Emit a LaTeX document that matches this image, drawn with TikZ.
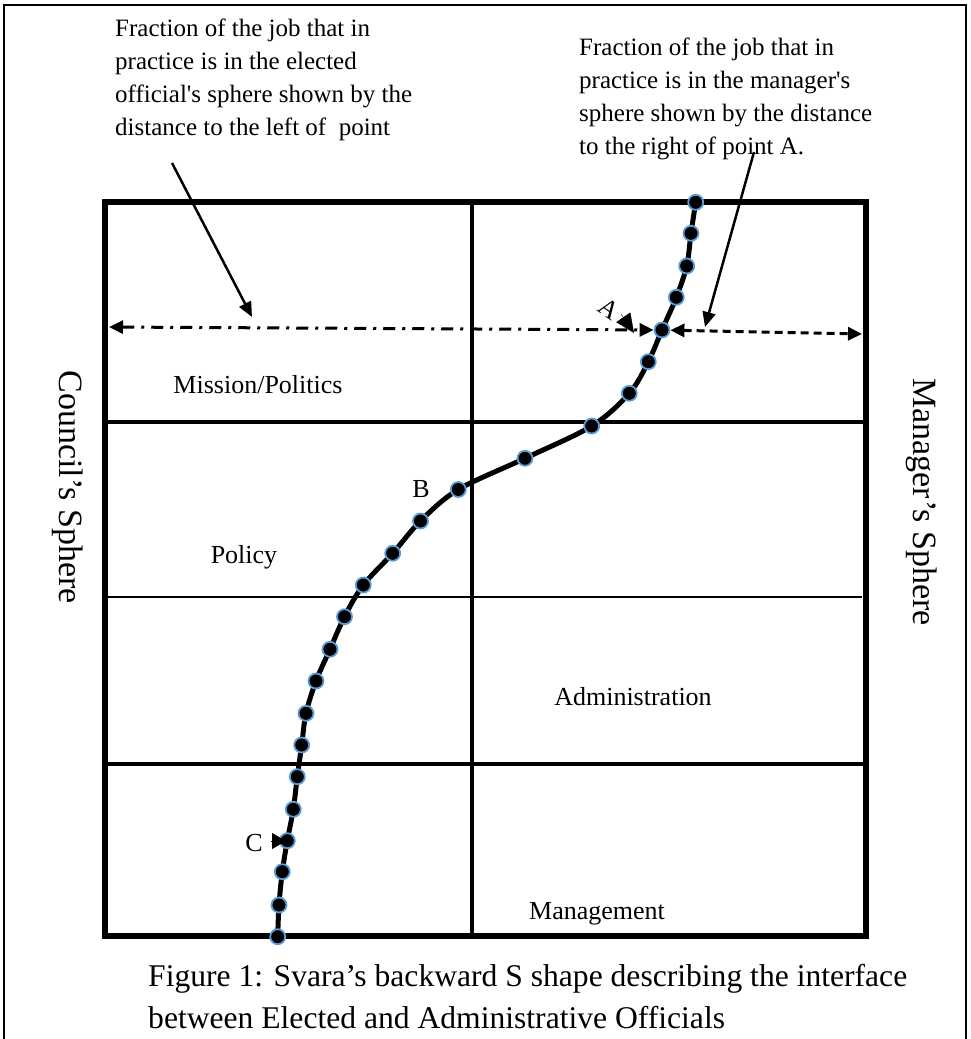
\documentclass[tikz,border=0pt]{standalone}
\usepackage{fontspec}
\setmainfont{Liberation Serif}
\usetikzlibrary{arrows.meta}
\definecolor{dotblue}{HTML}{5B9BD5}

\begin{document}
\begin{tikzpicture}[x=1pt,y=-1pt,
  frame/.style={line width=2pt},
  gridthick/.style={line width=5.5pt},
  gridmid/.style={line width=4.2pt},
  gridthin/.style={line width=2.5pt},
  curve/.style={line width=5pt},
  dot/.style={circle, fill=black, draw=dotblue, line width=1.8pt, minimum size=15pt, inner sep=0pt},
  dashdot/.style={line width=3pt, dash pattern=on 12pt off 7pt on 3pt off 7pt,
    {Triangle[length=14pt,width=13pt]}-{Triangle[length=14pt,width=13pt]}},
  dashline/.style={line width=3pt, dash pattern=on 8pt off 5pt,
    {Triangle[length=14pt,width=13pt]}-{Triangle[length=14pt,width=13pt]}},
  callout/.style={line width=2.5pt, -{Triangle[length=15pt,width=13pt]}},
  lbl/.style={font=\fontsize{26}{30}\selectfont, inner sep=0pt},
  side/.style={font=\fontsize{34}{38}\selectfont, inner sep=0pt, rotate=-90},
  note/.style={font=\fontsize{25}{33}\selectfont, align=left, inner sep=0pt, anchor=north west},
]
\useasboundingbox (0,0) rectangle (970,1039);

% page frame (open at the bottom)
\draw[frame] (4,1039) -- (4,5) -- (966,5) -- (966,1039);

% the four spheres grid
\draw[gridthick, line join=miter] (105,202) rectangle (866,936);
\draw[gridmid] (105,422) -- (866,422);
\draw[gridthin] (105,597) -- (862,597);
\draw[gridmid] (105,764) -- (866,764);
\draw[line width=3.8pt] (472,202) -- (472,936);

% zone labels
\node[lbl] (mission) at (258,385) {Mission/Politics};
\node[lbl] (policy) at (244,557) {Policy};
\node[lbl] (admin) at (633,697) {Administration};
\node[lbl] (mgmt) at (597,914) {Management};
\node[lbl] (labB) at (421,489) {B};
\node[lbl] (labC) at (254,843) {C};
\node[lbl, rotate=-35] (labA) at (609,309) {A};

\node[side] (council) at (68,487) {Council’s Sphere};
\node[side] (manager) at (922,502) {Manager’s Sphere};

% explanatory notes
\node[note] (noteL) at (115,19) {Fraction of the job that in\\practice is in the elected\\official\textquotesingle s sphere shown by the\\distance to the left of \ point};
\node[note] (noteR) at (579,38) {Fraction of the job that in\\practice is in the manager\textquotesingle s\\sphere shown by the distance\\to the right of point A.};

% caption
\node[note, font=\fontsize{31.6}{42}\selectfont] (caption) at (148,964) {Figure 1: Svara’s backward S shape describing the interface\\between Elected and Administrative Officials};

% points on the backward S curve
\coordinate (c1) at (695.7,202.3);
\coordinate (c2) at (691,233.3);
\coordinate (c3) at (686.7,266);
\coordinate (c4) at (676.3,297.3);
\coordinate (c5) at (662,330);
\coordinate (c6) at (648.3,361.7);
\coordinate (c7) at (629.3,393.3);
\coordinate (c8) at (591.7,426);
\coordinate (c9) at (525,458.3);
\coordinate (c10) at (458.3,489.5);
\coordinate (c11) at (420.5,521);
\coordinate (c12) at (392.7,553.3);
\coordinate (c13) at (363.3,585);
\coordinate (c14) at (344.5,616.7);
\coordinate (c15) at (330,649.3);
\coordinate (c16) at (316,681);
\coordinate (c17) at (306,713.3);
\coordinate (c18) at (301.7,745);
\coordinate (c19) at (297.3,776.7);
\coordinate (c20) at (293.3,809.3);
\coordinate (c21) at (287.3,840.7);
\coordinate (c22) at (282.3,871.7);
\coordinate (c23) at (279,905);
\coordinate (c24) at (277.7,936.7);

\draw[curve] plot[smooth, tension=0.55] coordinates {(c1) (c2) (c3) (c4) (c5) (c6) (c7) (c8) (c9) (c10) (c11) (c12) (c13) (c14) (c15) (c16) (c17) (c18) (c19) (c20) (c21) (c22) (c23) (c24)};

\foreach \i in {1,...,24} {
  \node[dot] (p\i) at (c\i) {};
}

% distances to the left and right of point A
\coordinate (leftEdge) at (109,327);
\coordinate (rightEdge) at (862,334);
\draw[dashdot] (leftEdge) -- (p5);
\draw[dashline] (p5) -- (rightEdge);

% arrows from the notes
\coordinate (tailL) at (172,163);
\coordinate (tipL) at (252,317);
\draw[callout] (tailL) -- (tipL);
\coordinate (tailR) at (754,152);
\coordinate (tipR) at (705,327);
\draw[callout] (tailR) -- (tipR);

% pointer heads at A and C
\coordinate (aTail) at (621,314);
\coordinate (aTip) at (634,333);
\draw[-{Triangle[length=19pt,width=17pt]}] (aTail) -- (aTip);
\coordinate (cTail) at (271,841);
\coordinate (cTip) at (286,841);
\draw[-{Triangle[length=14pt,width=16pt]}] (cTail) -- (cTip);
\end{tikzpicture}
\end{document}
